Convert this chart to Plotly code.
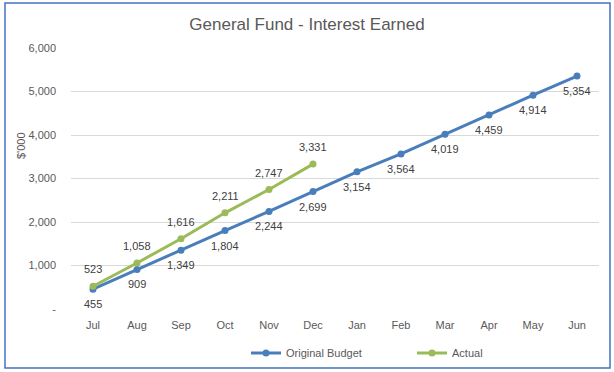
import plotly.graph_objects as go

months = ["Jul", "Aug", "Sep", "Oct", "Nov", "Dec", "Jan", "Feb", "Mar", "Apr", "May", "Jun"]
budget = [455, 909, 1349, 1804, 2244, 2699, 3154, 3564, 4019, 4459, 4914, 5354]
actual_months = ["Jul", "Aug", "Sep", "Oct", "Nov", "Dec"]
actual = [523, 1058, 1616, 2211, 2747, 3331]
y_ticks = [0, 1000, 2000, 3000, 4000, 5000, 6000]
y_tick_text = ["-", "1,000", "2,000", "3,000", "4,000", "5,000", "6,000"]

FONT = "Liberation Sans"
BLUE = "#4A7EBB"
GREEN = "#9BBB59"
LABEL = "#404040"

fig = go.Figure()
fig.add_trace(go.Scatter(
    x=months, y=budget, name="Original Budget", mode="lines+markers",
    line=dict(color=BLUE, width=3), marker=dict(size=7, color=BLUE),
))
fig.add_trace(go.Scatter(
    x=actual_months, y=actual, name="Actual", mode="lines+markers",
    line=dict(color=GREEN, width=3), marker=dict(size=7, color=GREEN),
))

L, R, T, B = 71, 15, 48, 63
W, H = 614, 372
pw, ph = W - L - R, H - T - B

def px(x):
    return (x - L) / pw

def py(y):
    return (H - B - y) / ph

annotations = []
for m, v in zip(months, budget):
    annotations.append(dict(x=m, y=v, xref="x", yref="y", text=f"{v:,}", showarrow=False,
                            yanchor="middle", yshift=-15,
                            font=dict(family=FONT, size=11, color=LABEL)))
for m, v in zip(actual_months, actual):
    annotations.append(dict(x=m, y=v, xref="x", yref="y", text=f"{v:,}", showarrow=False,
                            yanchor="middle", yshift=17,
                            font=dict(family=FONT, size=11, color=LABEL)))
annotations.append(dict(text="$'000", x=px(21), y=py(146), xref="paper", yref="paper",
                        showarrow=False, textangle=-90, xanchor="center", yanchor="middle",
                        font=dict(family=FONT, size=11, color="#595959")))

fig.update_layout(
    width=W, height=H,
    margin=dict(l=L, r=R, t=T, b=B, pad=0, autoexpand=False),
    paper_bgcolor="white", plot_bgcolor="white",
    font=dict(family=FONT, size=11, color="#595959"),
    title=dict(text="General Fund - Interest Earned", x=0.5, xanchor="center",
               y=1 - 24 / H, yanchor="middle",
               font=dict(family=FONT, size=17, color="#595959")),
    xaxis=dict(type="category", categoryorder="array", categoryarray=months,
               range=[-0.5, 11.5], showgrid=False, showline=False, zeroline=False,
               ticks="", tickfont=dict(size=11, color="#595959"), ticklabelstandoff=8),
    yaxis=dict(range=[0, 6000], tickvals=y_ticks, ticktext=y_tick_text,
               showgrid=True, gridcolor="#D9D9D9", gridwidth=1, zeroline=False,
               showline=False, ticks="", ticklabelstandoff=14,
               tickfont=dict(size=11, color="#595959")),
    showlegend=True,
    legend=dict(orientation="h", x=px(246), xanchor="left", y=py(353), yanchor="middle",
                font=dict(family=FONT, size=11, color="#595959"),
                itemwidth=30, entrywidth=121, tracegroupgap=0, bgcolor="rgba(0,0,0,0)"),
    annotations=annotations,
    shapes=[dict(type="rect", xref="paper", yref="paper",
                 x0=px(5), x1=px(610), y0=py(368), y1=py(3),
                 line=dict(color="#4472C4", width=1.5), layer="below")],
)

fig.write_html("out.html", config={"displayModeBar": False},
               post_script="document.body.style.margin='0';")
